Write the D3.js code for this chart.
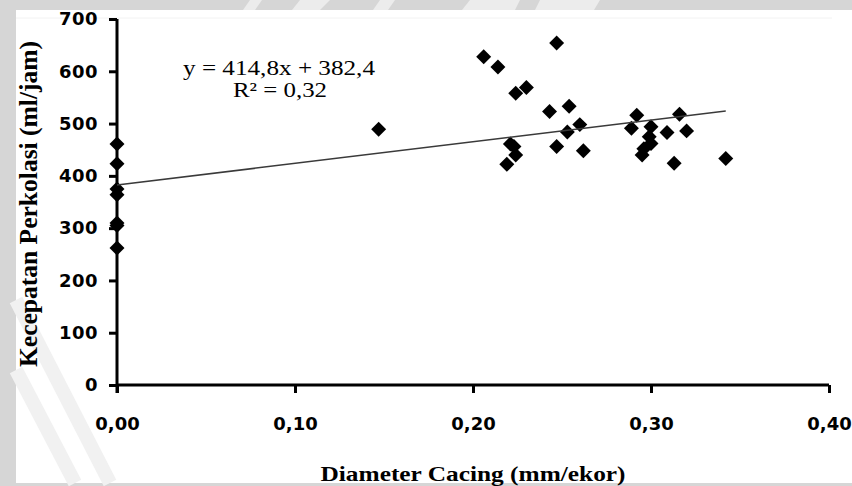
<!DOCTYPE html>
<html>
<head>
<meta charset="utf-8">
<script src="https://cdn.jsdelivr.net/npm/d3@7"></script>
<style>
  body { margin: 0; background: #d6d6d6; }
  svg { display: block; }
</style>
</head>
<body>
<script>
// Data
var diameter = [0, 0, 0, 0, 0, 0, 0,
    0.147, 0.206, 0.214,
    0.219, 0.221, 0.223, 0.224, 0.224, 0.230, 0.243, 0.247, 0.247, 0.253,
    0.254, 0.260, 0.262, 0.289, 0.292, 0.295, 0.296, 0.299, 0.300, 0.300,
    0.309, 0.313, 0.316, 0.320, 0.342];
var kecepatan = [461, 423, 375, 364, 310, 305, 262,
    489, 628, 608,
    422, 461, 456, 440, 558, 569, 523, 654, 456, 484,
    533, 498, 448, 491, 516, 440, 452, 475, 494, 462,
    483, 424, 518, 486, 433];

var xTicks = [0, 0.1, 0.2, 0.3, 0.4],
    yTicks = [0, 100, 200, 300, 400, 500, 600, 700];

// Trendline y = 414,8x + 382,4
var slope = 414.8,
    intercept = 382.4,
    eqText = 'y = 414,8x + 382,4',
    r2Text = 'R\u00b2 = 0,32';

var xTitle = 'Diameter Cacing (mm/ekor)',
    yTitle = 'Kecepatan Perkolasi (ml/jam)';

var width = 852, height = 486;

var xScale = d3.scaleLinear().domain([0, 0.4]).range([117, 829]);
var yScale = d3.scaleLinear().domain([0, 700]).range([385, 19]);

var svg = d3.select('body').append('svg')
    .attr('width', width)
    .attr('height', height);

// Gray frame and white page
svg.append('rect').attr('width', width).attr('height', height).attr('fill', '#d6d6d6');
svg.append('rect')
    .attr('x', 16).attr('y', 10)
    .attr('width', width - 16).attr('height', 473)
    .attr('fill', '#ffffff');

// faint watermark strokes
var wm = svg.append('g').attr('fill', 'none').attr('stroke', '#f1f1f1').attr('stroke-width', 14);
wm.append('path').attr('d', 'M16,300 L110,483');
wm.append('path').attr('d', 'M16,370 L75,483');
var wmTop = svg.append('g').attr('fill', '#ececec');
wmTop.append('path').attr('d', 'M250,0 L262,0 L255,10 L243,10 Z');
wmTop.append('path').attr('d', 'M300,0 L330,0 L320,10 L292,10 Z');
wmTop.append('path').attr('d', 'M380,0 L395,0 L388,10 L373,10 Z');
wmTop.append('path').attr('d', 'M470,0 L520,0 L515,10 L462,10 Z');
wmTop.append('path').attr('d', 'M540,0 L600,0 L594,10 L535,10 Z');
svg.append('line')
    .attr('x1', 16).attr('x2', 832).attr('y1', 18).attr('y2', 18)
    .attr('stroke', '#f2f2f2').attr('stroke-width', 1);

// Y axis
var yAxis = svg.append('g')
    .attr('transform', 'translate(' + xScale(0) + ',0)')
    .call(d3.axisLeft(yScale).tickValues(yTicks).tickSize(8).tickPadding(11).tickFormat(d3.format('d')));
yAxis.select('.domain').attr('stroke', '#000').attr('stroke-width', 3).attr('d', 'M0,' + yScale(700) + 'V' + (yScale(0) + 8));
yAxis.selectAll('.tick line').attr('stroke', '#000').attr('stroke-width', 3);
yAxis.selectAll('.tick text')
    .style('font-family', '"DejaVu Sans", Verdana, sans-serif')
    .style('font-weight', 'bold')
    .style('font-size', '18px')
    .style('letter-spacing', '0.5px')
    .attr('fill', '#000');

// X axis
var xFmt = function(d) { return d3.format('.2f')(d).replace('.', ','); };
var xAxis = svg.append('g')
    .attr('transform', 'translate(0,' + yScale(0) + ')')
    .call(d3.axisBottom(xScale).tickValues(xTicks).tickSize(8).tickPadding(24).tickFormat(xFmt));
xAxis.select('.domain').attr('stroke', '#000').attr('stroke-width', 3).attr('d', 'M' + xScale(0) + ',0H' + xScale(0.4));
xAxis.selectAll('.tick line').attr('stroke', '#000').attr('stroke-width', 3);
xAxis.selectAll('.tick text')
    .style('font-family', '"DejaVu Sans", Verdana, sans-serif')
    .style('font-weight', 'bold')
    .style('font-size', '18px')
    .attr('fill', '#000');

// Points
var points = diameter.map(function(d, i) { return { x: d, y: kecepatan[i] }; });
var diamond = d3.symbol().type(d3.symbolSquare).size(112);
svg.append('g').selectAll('path.pt')
    .data(points)
    .enter().append('path')
    .attr('class', 'pt')
    .attr('d', diamond)
    .attr('transform', function(d) {
        return 'translate(' + xScale(d.x) + ',' + yScale(d.y) + ') rotate(45)';
    })
    .attr('fill', '#000');

// Trendline
var xMax = d3.max(diameter);
svg.append('line')
    .attr('x1', xScale(0)).attr('y1', yScale(intercept))
    .attr('x2', xScale(xMax)).attr('y2', yScale(intercept + slope * xMax))
    .attr('stroke', '#3a3a3a')
    .attr('stroke-width', 1.5);

// Equation
svg.append('text')
    .attr('x', 183).attr('y', 75)
    .attr('textLength', 192).attr('lengthAdjust', 'spacingAndGlyphs')
    .style('font-family', '"Liberation Serif", "Times New Roman", serif')
    .style('font-size', '21px')
    .text(eqText);
svg.append('text')
    .attr('x', 233).attr('y', 97)
    .attr('textLength', 94).attr('lengthAdjust', 'spacingAndGlyphs')
    .style('font-family', '"Liberation Serif", "Times New Roman", serif')
    .style('font-size', '21px')
    .text(r2Text);

// Axis titles
svg.append('text')
    .attr('x', 473).attr('y', 481)
    .attr('text-anchor', 'middle')
    .attr('textLength', 305).attr('lengthAdjust', 'spacingAndGlyphs')
    .style('font-family', '"Liberation Serif", "Times New Roman", serif')
    .style('font-weight', 'bold')
    .style('font-size', '22px')
    .text(xTitle);

svg.append('text')
    .attr('transform', 'translate(37,204) rotate(-90)')
    .attr('text-anchor', 'middle')
    .attr('textLength', 326).attr('lengthAdjust', 'spacingAndGlyphs')
    .style('font-family', '"Liberation Serif", "Times New Roman", serif')
    .style('font-weight', 'bold')
    .style('font-size', '25px')
    .text(yTitle);
</script>
</body>
</html>
